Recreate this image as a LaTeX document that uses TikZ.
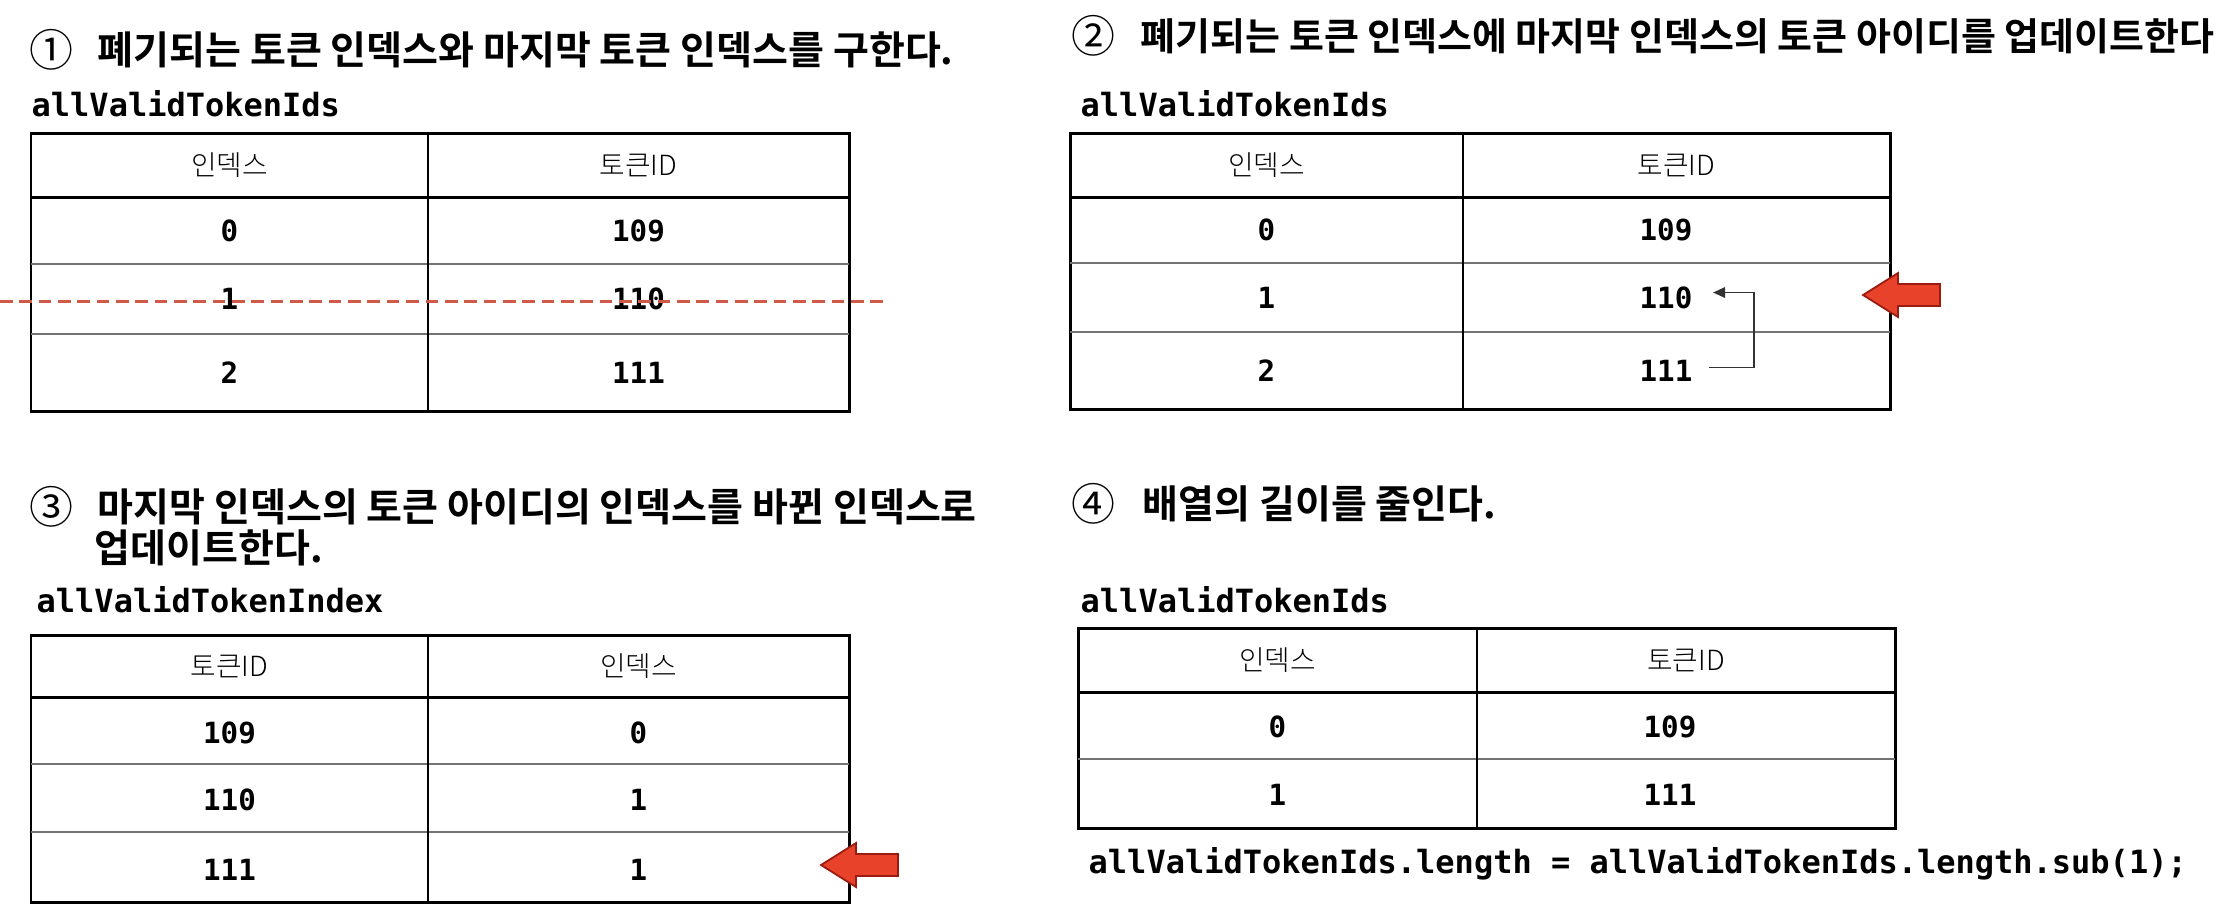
\documentclass[tikz,border=0pt]{standalone}
\usepackage{fontspec}
\setmainfont{Noto Sans CJK KR}[BoldFont=* Bold]
\newfontfamily\thinfont{Noto Sans CJK KR}[UprightFont=* Light]
\newfontfamily\codefont{DejaVu Sans Mono}
\usetikzlibrary{positioning, calc, arrows.meta}

\definecolor{arrowred}{HTML}{E8422B}
\definecolor{arrowedge}{HTML}{9A1C10}
\definecolor{dashred}{HTML}{CF5A48}

\begin{document}
\begin{tikzpicture}[x=0.01cm, y=-0.01cm,
    stepnum/.style={anchor=west, inner sep=0pt, font=\fontsize{12.5}{14}\selectfont},
    steptitle/.style={anchor=west, inner sep=0pt, font=\fontsize{11.1}{13}\selectfont\bfseries},
    arrname/.style={anchor=west, inner sep=0pt, font=\codefont\bfseries\fontsize{9.1}{11}\selectfont},
    hdr/.style={inner sep=0pt, font=\thinfont\fontsize{7.9}{9}\selectfont},
    val/.style={inner sep=0pt, font=\codefont\bfseries\fontsize{8.3}{10}\selectfont},
    outer/.style={line width=0.85pt},
    rowline/.style={line width=0.65pt, black!55},
    colline/.style={line width=0.45pt},
    bigarrow/.style={fill=arrowred, draw=arrowedge, line width=0.5pt, line join=miter},
]
    \useasboundingbox (0,0) rectangle (2238,920);

    % step 1
    \node[stepnum]   (n1) at (29,50) {①};
    \node[steptitle] (s1) at (97,50) {폐기되는 토큰 인덱스와 마지막 토큰 인덱스를 구한다.};
    \node[arrname] (lab1) at (31,104) {allValidTokenIds};

    \draw[outer] (31,133) rectangle (849,411);
    \draw[outer] (31,197) -- (849,197);
    \draw[rowline] (31,264) -- (849,264);
    \draw[rowline] (31,334) -- (849,334);
    \draw[colline] (428,133) -- (428,411);

    \node[hdr] (t1h1) at (229.5,165) {인덱스};
    \node[hdr] (t1h2) at (638.5,165) {토큰ID};
    \foreach \i/\a/\b/\y in {0/0/109/230.5, 1/1/110/299, 2/2/111/372.5} {
        \node[val] (t1a\i) at (229.5,\y) {\a};
        \node[val] (t1b\i) at (638.5,\y) {\b};
    }
    \draw[dashred, line width=0.85pt, dash pattern=on 3.6pt off 1.9pt] (0,301) -- (888,301);

    % step 2
    \node[stepnum]   (n2) at (1071,36) {②};
    \node[steptitle, font=\fontsize{10.8}{13}\selectfont\bfseries] (s2) at (1140,36)
        {폐기되는 토큰 인덱스에 마지막 인덱스의 토큰 아이디를 업데이트한다};
    \node[arrname] (lab2) at (1080,104) {allValidTokenIds};

    \draw[outer] (1070,133) rectangle (1890,409);
    \draw[outer] (1070,197) -- (1890,197);
    \draw[rowline] (1070,263) -- (1890,263);
    \draw[rowline] (1070,332) -- (1890,332);
    \draw[colline] (1463,133) -- (1463,409);

    \node[hdr] (t2h1) at (1266.5,165) {인덱스};
    \node[hdr] (t2h2) at (1676.5,165) {토큰ID};
    \foreach \i/\a/\b/\y in {0/0/109/230, 1/1/110/297.5, 2/2/111/370.5} {
        \node[val] (t2a\i) at (1266.5,\y) {\a};
        \node[val] (t2b\i) at (1666,\y) {\b};
    }
    \draw[line width=0.45pt, black!80, -{Triangle[length=3.4pt, width=3pt]}]
        ($(t2b2.east)+(16,-3)$) -| ($(t2b1.east)+(61,-5)$) -- ($(t2b1.east)+(20,-5)$);

    \coordinate (p2) at (1863,295);
    \draw[bigarrow] (p2) -- ++(35,-22) -- ++(0,11) -- ++(42,0) -- ++(0,22)
        -- ++(-42,0) -- ++(0,11) -- cycle;

    % step 3
    \node[stepnum]   (n3) at (29,507) {③};
    \node[steptitle] (s3) at (97,507) {마지막 인덱스의 토큰 아이디의 인덱스를 바뀐 인덱스로};
    \node[steptitle] (s3b) at (94,548) {업데이트한다.};
    \node[arrname] (lab3) at (36,600) {allValidTokenIndex};

    \draw[outer] (31,635) rectangle (849,902);
    \draw[outer] (31,697) -- (849,697);
    \draw[rowline] (31,764) -- (849,764);
    \draw[rowline] (31,832) -- (849,832);
    \draw[colline] (428,635) -- (428,902);

    \node[hdr] (t3h1) at (229.5,666) {토큰ID};
    \node[hdr] (t3h2) at (638.5,666) {인덱스};
    \foreach \i/\a/\b/\y in {0/109/0/733, 1/110/1/800, 2/111/1/870} {
        \node[val] (t3a\i) at (229.5,\y) {\a};
        \node[val] (t3b\i) at (638.5,\y) {\b};
    }

    \coordinate (p3) at (821,865);
    \draw[bigarrow] (p3) -- ++(35,-22) -- ++(0,11) -- ++(42,0) -- ++(0,22)
        -- ++(-42,0) -- ++(0,11) -- cycle;

    % step 4
    \node[stepnum]   (n4) at (1071,504) {④};
    \node[steptitle] (s4) at (1142,504) {배열의 길이를 줄인다.};
    \node[arrname] (lab4) at (1080,600) {allValidTokenIds};

    \draw[outer] (1078,628) rectangle (1895,828);
    \draw[outer] (1078,692) -- (1895,692);
    \draw[rowline] (1078,759) -- (1895,759);
    \draw[colline] (1477,628) -- (1477,828);

    \node[hdr] (t4h1) at (1277.5,660) {인덱스};
    \node[hdr] (t4h2) at (1686,660) {토큰ID};
    \foreach \i/\a/\b/\y in {0/0/109/727, 1/1/111/795} {
        \node[val] (t4a\i) at (1277.5,\y) {\a};
        \node[val] (t4b\i) at (1670,\y) {\b};
    }

    \node[arrname] (code) at (1088,864) {allValidTokenIds.length = allValidTokenIds.length.sub(1);};
\end{tikzpicture}
\end{document}
